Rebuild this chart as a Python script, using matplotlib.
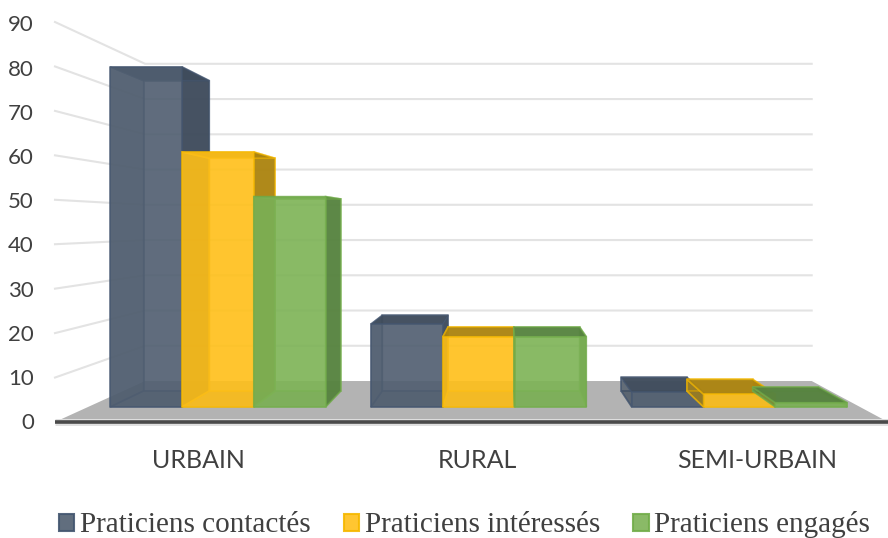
import matplotlib
matplotlib.use("Agg")
import matplotlib.pyplot as plt
from matplotlib.patches import Patch, Polygon

categories = ["URBAIN", "RURAL", "SEMI-URBAIN"]
series_names = ["Praticiens contactés", "Praticiens intéressés", "Praticiens engagés"]
contactes = [80, 19.5, 3.5]
interesses = [60, 16.5, 3]
engages = [49.5, 16.5, 1]
value_ticks = [0, 10, 20, 30, 40, 50, 60, 70, 80, 90]

series = [contactes, interesses, engages]
front_cols = ["#505e70", "#ffc01a", "#7db356"]
dark_cols = ["#3f4c5c", "#ab8412", "#578340"]
edge_cols = ["#445670", "#f5b800", "#72ad4a"]

W, H = 888, 538
PX_CAT = 833 / 3
PX_VAL = 400 / 90
fig = plt.figure(figsize=(W / 100, H / 100), dpi=100)
ax = fig.add_axes([0, 0, 1, 1])
ax.set_xlim(-55 / PX_CAT, (W - 55) / PX_CAT)
ax.set_ylim(-(H - 422) / PX_VAL, 422 / PX_VAL)
ax.axis("off")

VX = (506 - 55) / PX_CAT
VY = (422 - 224) / PX_VAL


def proj(x, v, s):
    sx = s + (1 - s) * 0.035
    return (VX + (x - VX) * sx, VY + (v - VY) * s)


# walls
S_BACK = 0.793
ax.add_patch(Polygon([proj(0, 0, 1), proj(3, 0, 1), proj(3, 0, S_BACK), proj(0, 0, S_BACK)],
                     fc="#b3b3b3", ec="none", zorder=1))
for v in value_ticks:
    a, b, c = proj(0, v, 1), proj(0, v, S_BACK), proj(3, v, S_BACK)
    if v > 0:
        ax.plot([a[0], b[0], c[0]], [a[1], b[1], c[1]], color="#e3e3e3", lw=1.5,
                solid_joinstyle="miter", zorder=0.5)
    ax.text(-21 / PX_CAT, v * 0.9945 - 0.25, str(v), ha="right", va="center", fontsize=16,
            family="Lato", color="#404040")

ax.plot([0, 3], [0, 0], color="#e0e0e0", lw=5, zorder=2, solid_capstyle="butt")
ax.plot([0, 3], [0, 0], color="#4a4a4a", lw=2.6, zorder=2.1, solid_capstyle="butt")

# bars
S_F, S_B = 0.924, 0.843
GAIN = 1.035
BW = 0.279
PERIOD = 1.0135
X0 = 0.086
z = 3.0
for i in range(len(categories)):
    for j, vals in enumerate(series):
        x0 = X0 + i * PERIOD + j * BW
        x1 = x0 + BW
        v = vals[i] * GAIN
        fc, dc, ec = front_cols[j], dark_cols[j], edge_cols[j]
        P = {
            "flb": proj(x0, 0, S_F), "frb": proj(x1, 0, S_F),
            "flt": proj(x0, v, S_F), "frt": proj(x1, v, S_F),
            "blb": proj(x0, 0, S_B), "brb": proj(x1, 0, S_B),
            "blt": proj(x0, v, S_B), "brt": proj(x1, v, S_B),
        }
        faces = [
            (["blb", "brb", "brt", "blt"], fc, 0.35),
            (["flb", "frb", "brb", "blb"], dc, 0.45),
            (["flb", "blb", "blt", "flt"], dc, 0.55),
            (["frb", "brb", "brt", "frt"], dc, 0.95),
            (["flt", "frt", "brt", "blt"], dc, 0.95),
            (["flb", "frb", "frt", "flt"], fc, 0.86),
        ]
        for names, col, alpha in faces:
            ax.add_patch(Polygon([P[n] for n in names], closed=True, fc=col, ec="none",
                                 alpha=alpha, zorder=z))
            ax.add_patch(Polygon([P[n] for n in names], closed=True, fill=False, ec=ec,
                                 lw=1.2, alpha=0.6, zorder=z + 0.01))
            z += 0.02

# category labels
label_x = [(198 - 55) / PX_CAT, (477 - 55) / PX_CAT, (757 - 55) / PX_CAT]
for x, name in zip(label_x, categories):
    ax.text(x, -(460 - 422) / PX_VAL, name, ha="center", va="center", fontsize=18,
            family="Lato", color="#404040")

handles = [Patch(fc=c, ec=e, alpha=0.9, lw=1.5) for c, e in zip(front_cols, edge_cols)]
ax.legend(handles, series_names, ncol=3, frameon=False, loc="center left",
          bbox_to_anchor=(59 / W, 1 - 525 / H), bbox_transform=fig.transFigure,
          prop={"family": "Liberation Serif", "size": 21}, labelcolor="#404040",
          handlelength=0.52, handleheight=0.52, handletextpad=0.2, columnspacing=1.14,
          borderpad=0, borderaxespad=0)

fig.savefig("out.png", dpi=100)
